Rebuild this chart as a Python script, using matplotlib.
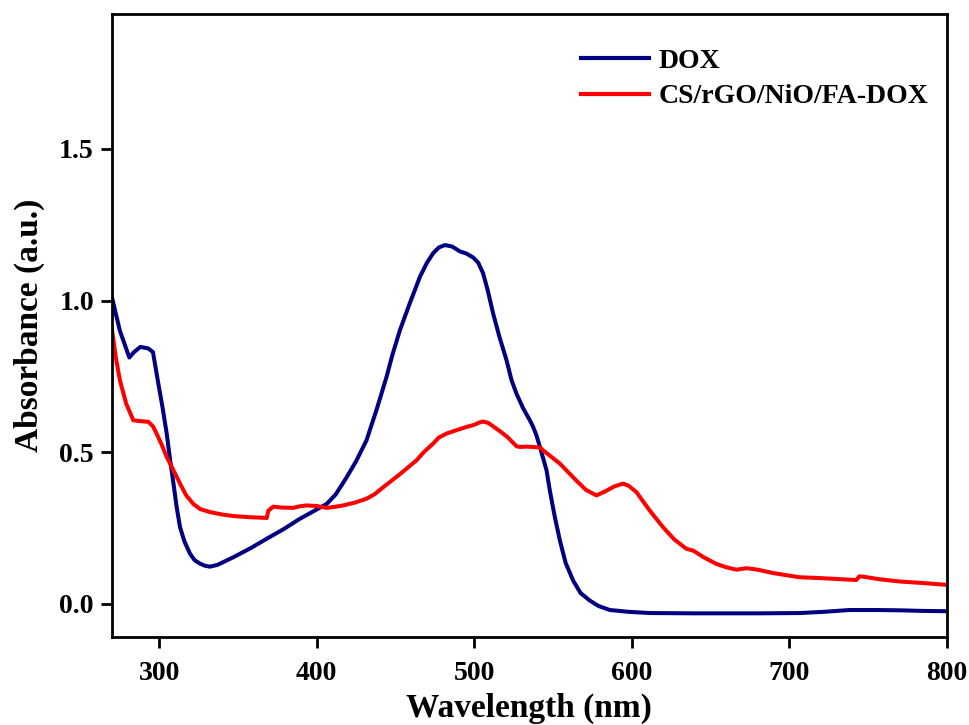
import matplotlib
matplotlib.use("Agg")
import matplotlib.pyplot as plt
from matplotlib.ticker import FormatStrFormatter

# DOX (blue)
dox_wl = [270, 275, 281, 284, 288, 293, 296, 299.4, 302, 304.7, 307, 309, 311, 313.2, 316, 319.5, 322.5,
          325.9, 329, 332.2, 337, 347, 358, 368.2, 379, 389.3, 398, 406.3, 412, 419, 425, 431.6, 438,
          444.3, 448, 452.8, 459, 465.5, 470, 473.9, 477.5, 481.4, 486, 490.9, 495, 499.3, 502.5,
          505.6, 508.5, 512, 516, 520.5, 523.7, 526.8, 531, 535.3, 537.4, 539.5, 541.7, 544, 545.9,
          548, 551, 554.4, 558, 562.8, 567.5, 573.4, 579, 586.1, 598, 611.5, 640, 680, 706.7, 722,
          738.4, 755, 770.2, 785, 800]
dox_abs = [1.01, 0.90, 0.812, 0.83, 0.847, 0.842, 0.83, 0.726, 0.65, 0.562, 0.47, 0.397, 0.32, 0.252,
           0.205, 0.165, 0.143, 0.132, 0.125, 0.122, 0.128, 0.153, 0.183, 0.214, 0.246, 0.28, 0.305,
           0.329, 0.36, 0.417, 0.47, 0.539, 0.64, 0.748, 0.82, 0.902, 0.99, 1.078, 1.125, 1.156,
           1.175, 1.183, 1.178, 1.162, 1.155, 1.142, 1.125, 1.09, 1.035, 0.957, 0.88, 0.803, 0.737,
           0.693, 0.645, 0.605, 0.583, 0.555, 0.517, 0.475, 0.44, 0.373, 0.29, 0.208, 0.135, 0.076,
           0.035, 0.01, -0.008, -0.021, -0.027, -0.031, -0.032, -0.032, -0.031, -0.027, -0.021,
           -0.021, -0.022, -0.024, -0.025]

# CS/rGO/NiO/FA-DOX (red)
cs_wl = [270, 272.5, 275, 279, 283.5, 288, 293, 296, 298.3, 301.5, 304.7, 309, 313.2, 317, 321.6, 326,
         332.2, 340, 347, 358, 367.5, 368.2, 369.3, 372.4, 378, 385.1, 389, 393.5, 400, 406.2, 411,
         416.8, 424, 431.6, 437, 442.2, 453, 463.4, 468, 473.9, 477.5, 482.4, 488, 495.1, 500, 503,
         505.6, 509, 516.3, 521, 526.9, 529, 533, 537.4, 541.7, 543.7, 549, 554.4, 558.5, 565,
         571, 577.6, 583, 589, 594.6, 598, 603, 611, 619.9, 627, 634.7, 639, 646, 653.8, 660,
         666.5, 672.8, 680, 689.7, 698, 706.7, 717, 727.9, 735, 742.7, 744.5, 747, 758, 770.2,
         785, 800]
cs_abs = [0.902, 0.81, 0.737, 0.66, 0.605, 0.602, 0.6, 0.585, 0.561, 0.525, 0.484, 0.44, 0.396, 0.358,
          0.329, 0.312, 0.302, 0.294, 0.289, 0.285, 0.283, 0.282, 0.307, 0.32, 0.317, 0.316, 0.321,
          0.324, 0.322, 0.316, 0.319, 0.324, 0.333, 0.346, 0.362, 0.384, 0.428, 0.473, 0.5, 0.528,
          0.548, 0.561, 0.571, 0.583, 0.59, 0.597, 0.601, 0.596, 0.569, 0.55, 0.519, 0.517, 0.518,
          0.517, 0.515, 0.506, 0.484, 0.462, 0.44, 0.405, 0.375, 0.357, 0.37, 0.387, 0.396, 0.389,
          0.368, 0.31, 0.252, 0.212, 0.181, 0.175, 0.152, 0.131, 0.12, 0.112, 0.117, 0.112, 0.101,
          0.094, 0.087, 0.085, 0.082, 0.08, 0.078, 0.09, 0.089, 0.08, 0.073, 0.068, 0.062]

series_labels = ["DOX", "CS/rGO/NiO/FA-DOX"]
series_colors = ["#000080", "#FF0000"]
x_ticks = [300, 400, 500, 600, 700, 800]
y_ticks = [0.0, 0.5, 1.0, 1.5]

plt.rcParams['font.family'] = ['Liberation Serif', 'DejaVu Serif']
plt.rcParams['font.weight'] = 'bold'

fig = plt.figure(figsize=(9.69, 7.25), dpi=100)
ax = fig.add_axes([0.1156, 0.1214, 0.977 - 0.1156, 0.981 - 0.1214])

ax.plot(dox_wl, dox_abs, color=series_colors[0], lw=2.9, label=series_labels[0], solid_joinstyle='round')
ax.plot(cs_wl, cs_abs, color=series_colors[1], lw=2.9, label=series_labels[1], solid_joinstyle='round')

ax.set_xlim(270, 800)
ax.set_ylim(-0.11, 1.946)
ax.set_xticks(x_ticks)
ax.set_yticks(y_ticks)
ax.yaxis.set_major_formatter(FormatStrFormatter('%.1f'))
ax.tick_params(direction='out', length=8, width=2, labelsize=20)
ax.tick_params(axis='x', pad=9)
ax.tick_params(axis='y', pad=5)
for lab in ax.get_xticklabels() + ax.get_yticklabels():
    lab.set_fontweight('bold')
for sp in ax.spines.values():
    sp.set_linewidth(2)

ax.set_xlabel("Wavelength (nm)", fontsize=24, fontweight='bold', labelpad=5)
ax.set_ylabel("Absorbance (a.u.)", fontsize=24, fontweight='bold', labelpad=10)

leg = ax.legend(loc='upper right', frameon=False, handlelength=2.45,
                handletextpad=0.35, labelspacing=0.35, bbox_to_anchor=(0.978, 0.944),
                borderpad=0, borderaxespad=0,
                prop={'weight': 'bold', 'size': 20})
for h in leg.get_lines():
    h.set_linewidth(3)

fig.savefig("out.png", dpi=100)
